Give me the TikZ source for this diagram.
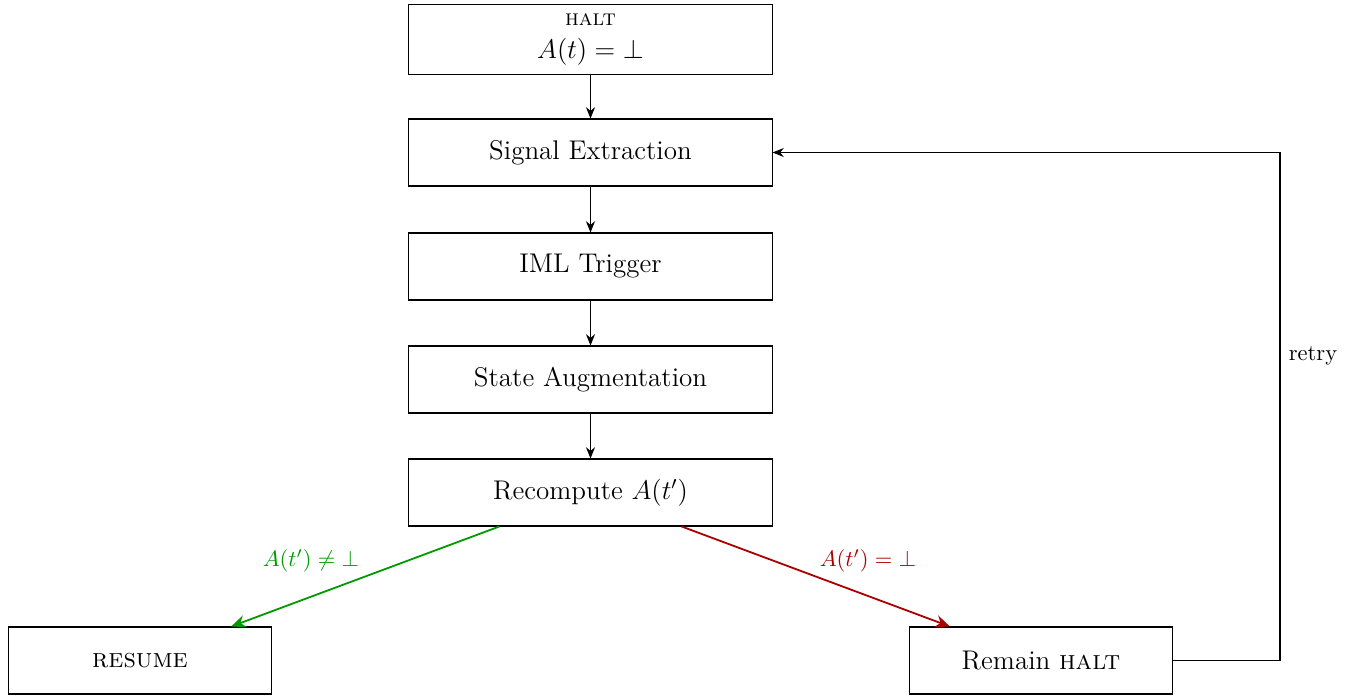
\documentclass[tikz,border=0pt]{standalone}
\usetikzlibrary{arrows.meta}
\definecolor{okgreen}{RGB}{0,153,0}
\definecolor{badred}{RGB}{170,0,0}
\begin{document}
\begin{tikzpicture}[x=0.444pt,y=-0.444pt,
  box/.style={draw,line width=0.45pt,minimum width=161.2pt,minimum height=29.75pt,inner sep=0pt,font=\large,align=center},
  flow/.style={-{Stealth[length=5pt,width=4pt]},line width=0.45pt},
  yes/.style={-{Stealth[length=6.5pt,width=5.5pt]},line width=0.8pt,okgreen},
  no/.style={-{Stealth[length=6.5pt,width=5.5pt]},line width=0.8pt,badred}]
\useasboundingbox (0,0) rectangle (1356,696);
\node[box,minimum height=31.5pt] (halt) at (590.5,39.5) {{\normalsize\textsc{halt}}\\[1pt]$A(t)=\bot$};
\node[box] (sig) at (590.5,152.5) {Signal Extraction};
\node[box] (iml) at (590.5,266.5) {IML Trigger};
\node[box] (aug) at (590.5,379.5) {State Augmentation};
\node[box] (rec) at (590.5,492.5) {Recompute $A(t')$};
\node[box,minimum width=117.2pt] (res) at (140,660.5) {\textsc{resume}};
\node[box,minimum width=117.2pt] (rem) at (1041,660.5) {Remain \textsc{halt}};
\coordinate (c1) at (1280,660.5);
\coordinate (c2) at (1280,152.5);
\draw[flow] (halt) -- (sig);
\draw[flow] (sig) -- (iml);
\draw[flow] (iml) -- (aug);
\draw[flow] (aug) -- (rec);
\draw[yes] (rec) -- (res);
\draw[no] (rec) -- (rem);
\node[text=okgreen] (ly) at (311,561) {$A(t')\neq\bot$};
\node[text=badred] (ln) at (868,561) {$A(t')=\bot$};
\draw[flow] (rem.east) -- (c1) -- (c2) -- (sig.east);
\node (lr) at (1313,356) {retry};
\end{tikzpicture}
\end{document}
